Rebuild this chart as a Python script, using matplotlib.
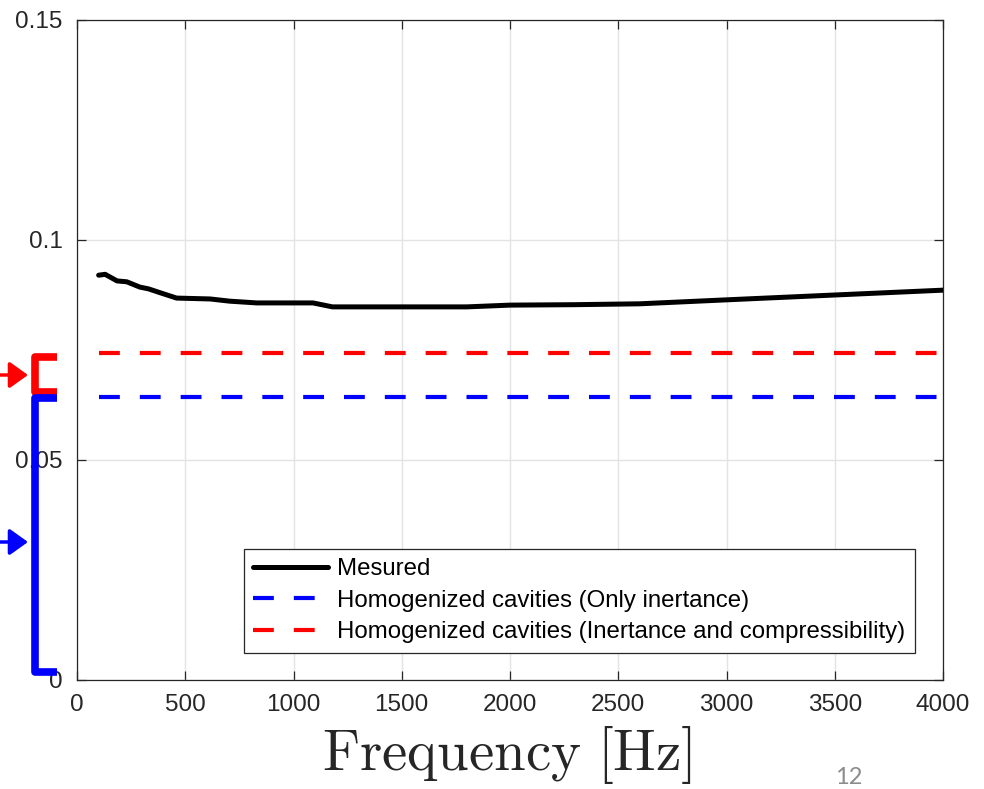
import matplotlib as mpl
import matplotlib.pyplot as plt
from matplotlib.lines import Line2D

mpl.rcParams.update({
    "font.family": ["Liberation Sans", "DejaVu Sans"],
    "mathtext.fontset": "cm",
    "axes.edgecolor": "#262626",
    "axes.linewidth": 0.9,
    "xtick.color": "#262626",
    "ytick.color": "#262626",
})

# ── data ──────────────────────────────────────────────────────────────────────
freq_hz = [100, 130, 185, 230, 290, 330, 385, 460, 615, 705, 830, 1000, 1090,
           1180, 1300, 1500, 1800, 2000, 2300, 2600, 3000, 3500, 4000]
measured = [0.0920, 0.0922, 0.0907, 0.0905, 0.0893, 0.0889, 0.0880, 0.0868,
            0.0866, 0.0861, 0.0857, 0.0857, 0.0857, 0.0848, 0.0848, 0.0848,
            0.0848, 0.0852, 0.0853, 0.0855, 0.0864, 0.0875, 0.0886]
hom_range = [100, 4000]
only_inertance = [0.0644, 0.0644]
inertance_compress = [0.0744, 0.0744]

x_ticks = [0, 500, 1000, 1500, 2000, 2500, 3000, 3500, 4000]
y_ticks = [0, 0.05, 0.1, 0.15]
y_tick_labels = ["0", "0.05", "0.1", "0.15"]

W, H = 984, 789
fig = plt.figure(figsize=(W / 100, H / 100), dpi=100)
ax = fig.add_axes([77 / W, 1 - 680 / H, 866 / W, 660 / H])


def px(x, y):
    """pixel coords (top-left origin) -> figure fraction"""
    return x / W, 1 - y / H


ax.plot(freq_hz, measured, color="black", lw=3.6, label="Mesured",
        solid_capstyle="round", solid_joinstyle="round", zorder=4)
ax.plot(hom_range, only_inertance, color="#0000ff", lw=3, dashes=(5, 4.8),
        label="Homogenized cavities (Only inertance)", zorder=3)
ax.plot(hom_range, inertance_compress, color="#ff0000", lw=3, dashes=(5, 4.8),
        label="Homogenized cavities (Inertance and compressibility)", zorder=3)

ax.set_xlim(0, 4000)
ax.set_ylim(0, 0.15)
ax.set_xticks(x_ticks)
ax.set_yticks(y_ticks)
ax.set_yticklabels(y_tick_labels)
ax.tick_params(direction="in", length=6.5, width=0.9, labelsize=17.5,
               top=True, right=True, labelcolor="#262626")
ax.tick_params(axis="x", pad=10)
ax.tick_params(axis="y", pad=10.5)
ax.grid(True, color="#e3e3e3", linewidth=1.0, zorder=0)
ax.set_axisbelow(True)

leg = ax.legend(loc="lower right", bbox_to_anchor=((915 - 77) / 866, (680 - 653) / 660),
                fontsize=17.3, frameon=True, fancybox=False, framealpha=1,
                edgecolor="#262626", handlelength=3.1, handletextpad=0.4,
                labelspacing=0.4, borderpad=0.4, borderaxespad=0)
leg.get_frame().set_linewidth(0.9)

# x label in LaTeX style
fig.text(507 / W, 1 - 770 / H, r"$\mathrm{Frequency\ [Hz]}$", fontsize=41,
         ha="center", va="baseline", color="#262626")

# slide number
fig.text(835 / W, 1 - 784 / H, "12", fontsize=17, color="#8c8c8c",
         family=["Lato", "DejaVu Sans"], ha="left", va="baseline")

# brackets and arrows on the left
for (y0, y1, col) in [(357, 392, "#ff0000"), (398, 672, "#0000ff")]:
    xs = [57, 35, 35, 57]
    ys = [y0, y0, y1, y1]
    pts = [px(a, b) for a, b in zip(xs, ys)]
    fig.add_artist(Line2D([p[0] for p in pts], [p[1] for p in pts], color=col,
                          lw=5.5, solid_joinstyle="round", solid_capstyle="butt",
                          transform=fig.transFigure, clip_on=False))

for (y, col) in [(375, "#ff0000"), (542, "#0000ff")]:
    fig.add_artist(mpl.patches.FancyArrowPatch(
        px(0, y), px(28, y), transform=fig.transFigure,
        arrowstyle="-|>,head_length=7,head_width=5", mutation_scale=1.6,
        color=col, lw=2.5, shrinkA=0, shrinkB=0))

fig.savefig("out.png", dpi=100)
